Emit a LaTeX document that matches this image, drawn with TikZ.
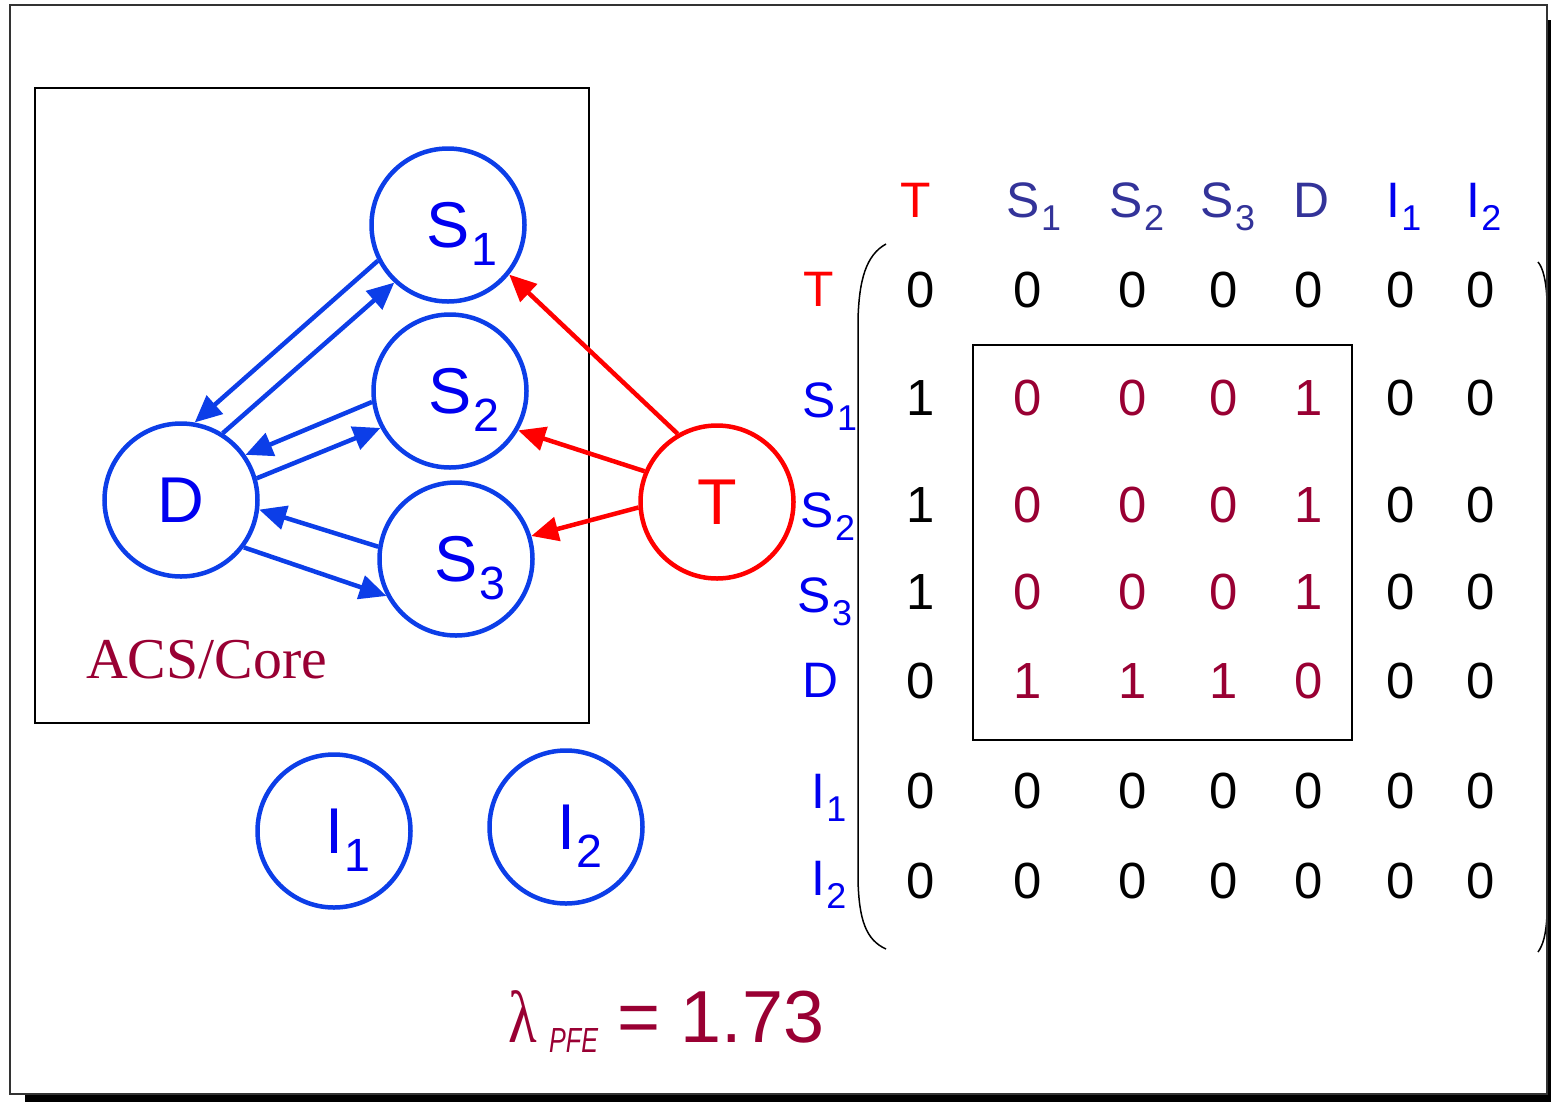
\documentclass[tikz,border=0pt]{standalone}
\usepackage{fontspec}
\setmainfont{Liberation Sans}
\newfontfamily\timesfont{Liberation Serif}
\usetikzlibrary{arrows.meta}
\definecolor{ringblue}{RGB}{12,62,232}
\definecolor{labelblue}{RGB}{0,0,240}
\definecolor{slate}{RGB}{51,51,153}
\definecolor{maroon}{RGB}{153,0,51}
\newcommand\sub[1]{\rlap{\kern.03em\raisebox{-.28em}{\scalebox{.72}{#1}}}}
\tikzset{
  >={Triangle[length=27bp, width=24bp]}, % filled arrow heads
  site/.style={circle, draw=ringblue, line width=4.5bp, minimum size=153bp, inner sep=0pt,
    text depth=0pt, text=labelblue, font=\fontsize{65}{70}\selectfont}, % every network node
  threat/.style={site, draw=red, text=red}, % the attacker node
  link/.style={->, draw=ringblue, line width=4.5bp}, % links inside the core
  hit/.style={->, draw=red, line width=4.5bp}, % links from T
  head/.style={anchor=base, inner sep=0pt, font=\fontsize{50}{56}\selectfont}, % matrix labels
  num/.style={inner sep=0pt, font=\fontsize{51}{56}\selectfont}, % matrix entries
  blk/.style={num, text=maroon}, % entries of the core block
}
\begin{document}
\begin{tikzpicture}[x=1bp, y=-1bp]
  \useasboundingbox (0,0) rectangle (1551,1102);

  % network
  \draw[line width=2bp] (35,88) rectangle (589,723);
  \node[anchor=base west, inner sep=0pt, text=maroon, font=\fontsize{58}{64}\timesfont] (core) at (86,678) {ACS/Core};
  \node[site] (S1) at (448,225) {S\sub{1}};
  \node[site] (S2) at (450,391) {S\sub{2}};
  \node[site] (S3) at (456,559) {S\sub{3}};
  \node[site] (D) at (181,500) {D};
  \node[threat] (T) at (717,502) {T};
  \node[site] (I1) at (334,831) {I\sub{1}};
  \node[site] (I2) at (566,827) {I\sub{2}};

  \draw
  (S1.207) edge[link] (D.80)
  (D.58) edge[link] (S1.227)
  (S2.188) edge[link] (D.35)
  (D.16) edge[link] (S2.208)
  (S3.171) edge[link] (D.353)
  (D.323) edge[link] (S3.208)
  (T.120) edge[hit] (S1.321)
  (T.157) edge[hit] (S2.330)
  (T.184) edge[hit] (S3.17)
  ;

  % adjacency matrix
  \node[head, text=red] (colT) at (916,217) {T};
  \node[head, text=slate] (colS1) at (1023,217) {S\sub{1}};
  \node[head, text=slate] (colS2) at (1126,217) {S\sub{2}};
  \node[head, text=slate] (colS3) at (1217,217) {S\sub{3}};
  \node[head, text=slate] (colD) at (1311,217) {D};
  \node[head, text=labelblue] (colI1) at (1393,217) {I\sub{1}};
  \node[head, text=labelblue] (colI2) at (1473,217) {I\sub{2}};

  \node[head, text=red] (rowT) at (819,306) {T};
  \node[head, text=labelblue] (rowS1) at (819,417) {S\sub{1}};
  \node[head, text=labelblue] (rowS2) at (817,527) {S\sub{2}};
  \node[head, text=labelblue] (rowS3) at (814,612) {S\sub{3}};
  \node[head, text=labelblue] (rowD) at (820,697) {D};
  \node[head, text=labelblue] (rowI1) at (818,808) {I\sub{1}};
  \node[head, text=labelblue] (rowI2) at (818,895) {I\sub{2}};

  \def\colpos{{921,1028,1133,1224,1309,1401,1481}}
  \def\rowpos{{290,398,505,592,681,791,881}}
  \foreach \vals [count=\r] in {
    {0/num,0/num,0/num,0/num,0/num,0/num,0/num},
    {1/num,0/blk,0/blk,0/blk,1/blk,0/num,0/num},
    {1/num,0/blk,0/blk,0/blk,1/blk,0/num,0/num},
    {1/num,0/blk,0/blk,0/blk,1/blk,0/num,0/num},
    {0/num,1/blk,1/blk,1/blk,0/blk,0/num,0/num},
    {0/num,0/num,0/num,0/num,0/num,0/num,0/num},
    {0/num,0/num,0/num,0/num,0/num,0/num,0/num}}
    \foreach \v/\s [count=\c] in \vals
      \node[\s] (a\r\c) at ({\colpos[\c-1]},{\rowpos[\r-1]}) {\v};

  \draw[line width=2bp] (973,345) rectangle (1352,740);
  \draw[line width=1.5bp] (886,244) .. controls (866,255) and (859,280) .. (858,320)
    -- (858,880) .. controls (859,920) and (866,940) .. (886,949);
  \draw[line width=1.5bp] (1538,262) .. controls (1543,268) and (1546,280) .. (1547,300)
    -- (1547,915) .. controls (1546,935) and (1543,945) .. (1538,952);

  % spectral value
  \node[anchor=base west, inner sep=0pt, text=maroon, font=\fontsize{74}{80}\timesfont] (lam) at (508,1042) {\scalebox{.8}[1]{λ}};
  \node[anchor=base west, inner sep=0pt, text=maroon, font=\fontsize{35}{40}\selectfont\itshape] (pfe) at (549,1052) {\scalebox{.72}[1]{PFE}};
  \node[anchor=base west, inner sep=0pt, text=maroon, font=\fontsize{74}{80}\selectfont] (val) at (617,1042) {= 1.73};

  % slide frame with shadow
  \fill (25,1095) rectangle (1551,1102);
  \fill (1547,20) rectangle (1551,1102);
  \draw[line width=1.5bp, black!80] (10,5) rectangle (1547,1094);
\end{tikzpicture}
\end{document}
